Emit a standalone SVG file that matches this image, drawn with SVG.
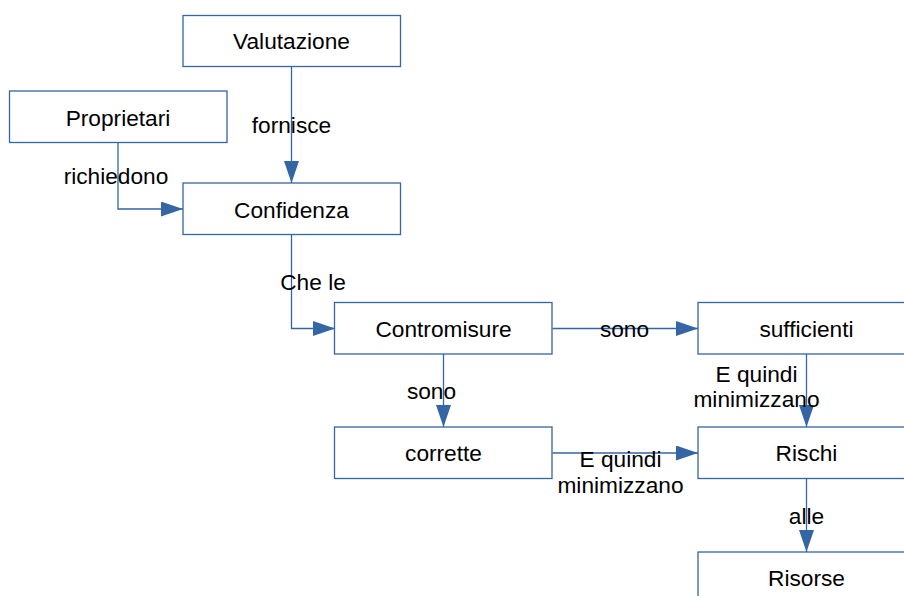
<svg xmlns="http://www.w3.org/2000/svg" width="904" height="596" viewBox="0 0 904 596">
<style>
.box{fill:#fff;stroke:#3465a4;stroke-width:1.3}
.t{font-family:"Liberation Sans",Arial,sans-serif;font-size:22.7px;fill:#000;text-anchor:middle}
.c{fill:none;stroke:#3465a4;stroke-width:1.3}
</style>
<defs>
<marker id="ah" markerUnits="userSpaceOnUse" markerWidth="24" markerHeight="16" refX="22" refY="7.5" orient="auto">
<path d="M0,0 L22,7.5 L0,15 Z" fill="#3465a4"/>
</marker>
</defs>
<rect width="904" height="596" fill="#fff"/>
<g id="connectors">
<path class="c" d="M291.5,67 V183" marker-end="url(#ah)"/>
<path class="c" d="M118,143 V209 H183" marker-end="url(#ah)"/>
<path class="c" d="M291.5,235 V328.5 H335" marker-end="url(#ah)"/>
<path class="c" d="M552.5,328.5 H698" marker-end="url(#ah)"/>
<path class="c" d="M443.5,354 V427" marker-end="url(#ah)"/>
<path class="c" d="M552.5,453 H698" marker-end="url(#ah)"/>
<path class="c" d="M806.5,354 V427" marker-end="url(#ah)"/>
<path class="c" d="M806.5,479 V552" marker-end="url(#ah)"/>
</g>
<g id="labels">
<text class="t" x="291.5" y="133">fornisce</text>
<text class="t" x="116" y="184">richiedono</text>
<text class="t" x="313" y="290">Che le</text>
<text class="t" x="624.5" y="337">sono</text>
<text class="t" x="431.5" y="399">sono</text>
<text class="t" x="620.5" y="467">E quindi</text>
<text class="t" x="620.5" y="492.5">minimizzano</text>
<text class="t" x="756.5" y="382">E quindi</text>
<text class="t" x="756.5" y="407">minimizzano</text>
<text class="t" x="806.5" y="523.5">alle</text>
</g>
<g id="valutazione"><rect class="box" x="183" y="15.5" width="217.5" height="51"/><text class="t" x="291.5" y="49">Valutazione</text></g>
<g id="proprietari"><rect class="box" x="9.5" y="91" width="217.5" height="51.5"/><text class="t" x="118" y="126">Proprietari</text></g>
<g id="confidenza"><rect class="box" x="183" y="183" width="217.5" height="51.5"/><text class="t" x="291.5" y="217.5">Confidenza</text></g>
<g id="contromisure"><rect class="box" x="334.5" y="302.5" width="217.5" height="51.5"/><text class="t" x="443.5" y="337">Contromisure</text></g>
<g id="corrette"><rect class="box" x="334.5" y="427" width="217.5" height="51.5"/><text class="t" x="443.5" y="461">corrette</text></g>
<g id="sufficienti"><rect class="box" x="698" y="302.5" width="217.5" height="51.5"/><text class="t" x="806.5" y="337">sufficienti</text></g>
<g id="rischi"><rect class="box" x="698" y="427" width="217.5" height="51.5"/><text class="t" x="806.5" y="461">Rischi</text></g>
<g id="risorse"><rect class="box" x="698" y="552" width="217.5" height="51.5"/><text class="t" x="806.5" y="586">Risorse</text></g>
</svg>
